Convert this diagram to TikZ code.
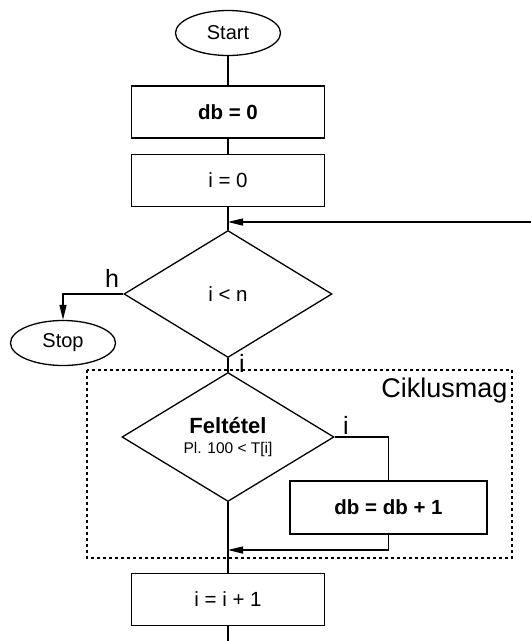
\documentclass[tikz,border=0pt]{standalone}
\usepackage{fontspec}
\setmainfont{Liberation Sans}
\usepackage{tikz}
\usetikzlibrary{shapes.geometric, arrows.meta, positioning, calc}

\begin{document}
\begin{tikzpicture}[x=1pt, y=-1pt, line width=1.3pt,
  terminal/.style={draw, ellipse, minimum width=105pt, minimum height=45pt, inner sep=0pt, font=\fontsize{20}{23}\selectfont},
  actionbox/.style={draw, rectangle, minimum width=193pt, minimum height=52pt, font=\fontsize{20.5}{23}\selectfont},
  decision/.style={draw, diamond, aspect=1.65, inner sep=0pt, minimum width=208pt, minimum height=127pt, font=\fontsize{20.5}{23}\selectfont},
  branchlabel/.style={font=\fontsize{25}{28}\selectfont, inner sep=0pt},
  flow/.style={-{Triangle[length=15pt,width=7pt]}}]
  \useasboundingbox (0,0) rectangle (531,641);

  % Start and initial values
  \node[terminal] (start) at (228,33) {Start};
  \node[actionbox, font=\fontsize{20.5}{23}\selectfont\bfseries] (dbzero) at (228,112) {db = 0};
  \node[actionbox] (izero) at (228,180.5) {i = 0};
  \coordinate (loopin) at (228,222);
  \coordinate (loopright) at (531,222);

  % Loop test
  \node[decision] (loopcond) at (228,294) {i < n};
  \node[terminal] (stop) at (63,343) {Stop};
  \node[branchlabel] at (112,278) {h};
  \node[branchlabel] at (242,363) {i};

  % Loop body
  \draw[dash pattern=on 3pt off 3pt] (87,370) rectangle (512,558);
  \node[font=\fontsize{27}{30}\selectfont, anchor=east, inner sep=0pt] (bodylabel) at (508,391) {Ciklusmag};
  \node[decision, minimum width=212pt, minimum height=129pt, align=center] (cond) at (228,437)
    {{\fontsize{22}{22}\selectfont\bfseries Feltétel}\\[-3pt]{\fontsize{15.5}{17}\selectfont Pl. 100 < T[i]}};
  \node[branchlabel] at (346,425) {i};
  \node[actionbox, minimum width=197pt, minimum height=53pt, font=\fontsize{20.5}{23}\selectfont\bfseries] (incdb) at (388.5,507.5) {db = db + 1};
  \coordinate (merge) at (228,550);

  % Step
  \node[actionbox] (stepi) at (228,599.5) {i = i + 1};
  \coordinate (bottom) at (228,641);

  % Connectors
  \draw (start) -- (dbzero);
  \draw (dbzero) -- (izero);
  \draw (izero) -- (loopcond);
  \draw[flow] (loopright) -- (loopin);
  \draw[flow] (loopcond.west) -| (stop.north);
  \draw (loopcond.south) -- (cond.north);
  \draw (cond.east) -| (incdb.north);
  \draw[flow] (incdb.south) |- (merge);
  \draw (cond.south) -- (stepi.north);
  \draw (stepi.south) -- (bottom);
\end{tikzpicture}
\end{document}
